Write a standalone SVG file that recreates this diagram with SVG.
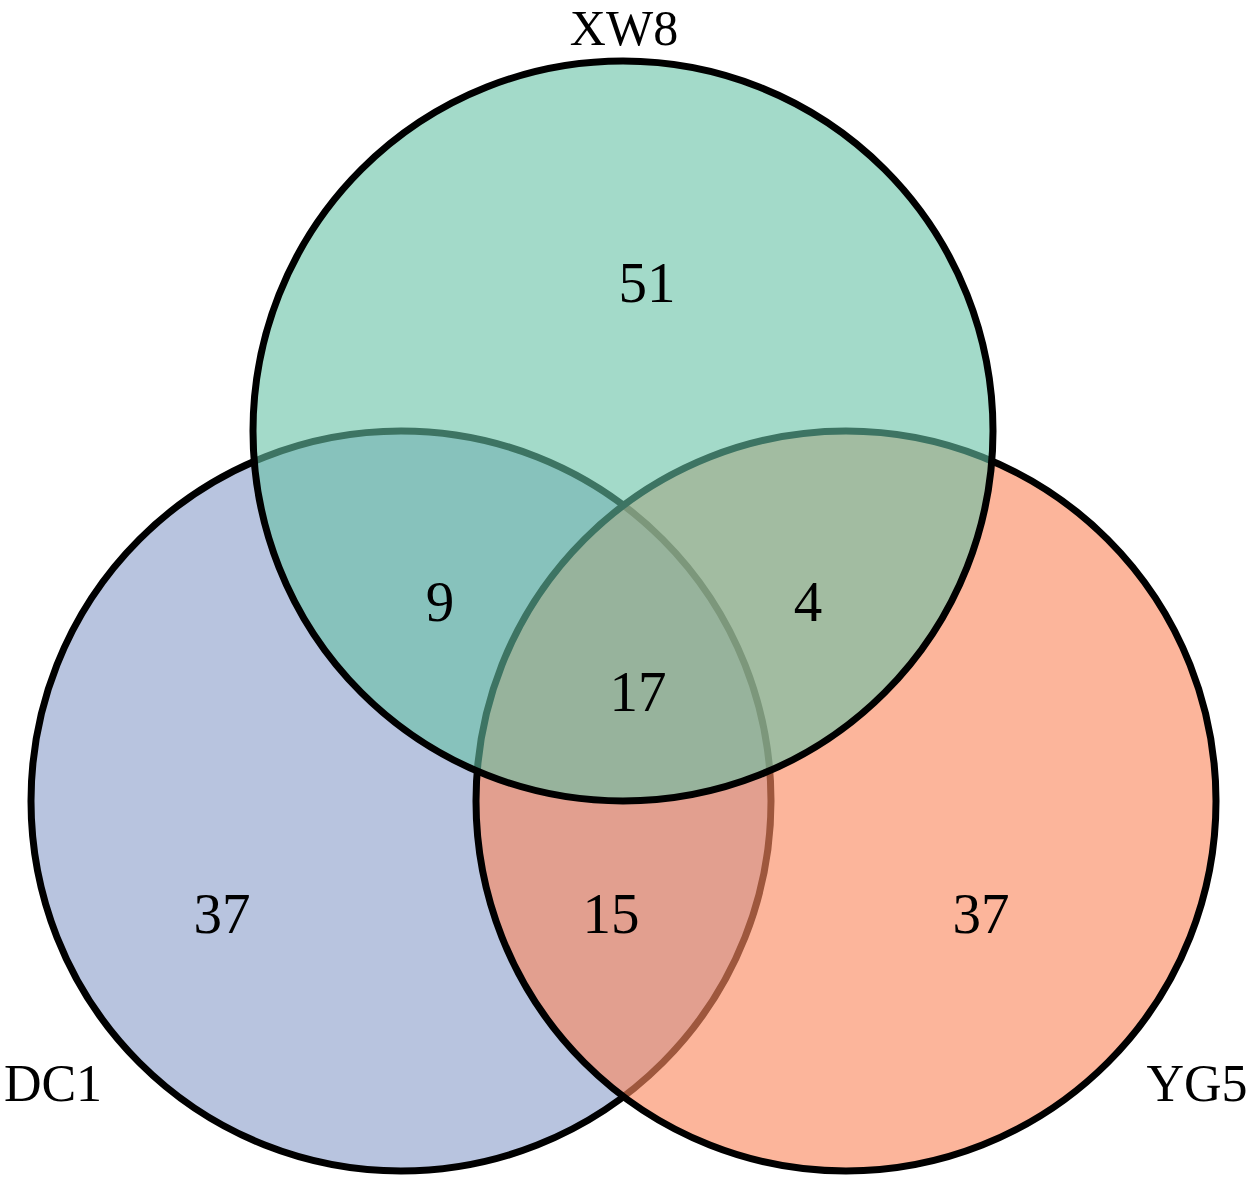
<svg xmlns="http://www.w3.org/2000/svg" width="1251" height="1178" viewBox="0 0 1251 1178">
<style>
.set{stroke:#000;stroke-width:7}
.lbl{font-family:"Liberation Serif","DejaVu Serif",serif;font-size:52px;fill:#000;text-anchor:middle}
.num{font-family:"Liberation Serif","DejaVu Serif",serif;font-size:57px;fill:#000;text-anchor:middle}
</style>
<rect width="1251" height="1178" fill="#fff"/>
<g id="DC1">
<circle class="set" cx="401" cy="801" r="370" fill="rgba(141,160,203,0.62)"/>
<text class="lbl" x="53" y="1101">DC1</text>
</g>
<g id="YG5">
<circle class="set" cx="846" cy="801" r="370" fill="rgba(250,138,96,0.63)"/>
<text class="lbl" x="1197" y="1101">YG5</text>
</g>
<g id="XW8">
<circle class="set" cx="623" cy="431" r="370" fill="rgba(102,194,165,0.6)"/>
<text class="lbl" x="624" y="45" style="font-size:50px">XW8</text>
</g>
<g id="counts">
<text class="num" x="647" y="302">51</text>
<text class="num" x="440" y="621">9</text>
<text class="num" x="808" y="621">4</text>
<text class="num" x="638" y="711">17</text>
<text class="num" x="222" y="933">37</text>
<text class="num" x="611" y="933">15</text>
<text class="num" x="981" y="933">37</text>
</g>
<g id="connectors"></g>
</svg>
